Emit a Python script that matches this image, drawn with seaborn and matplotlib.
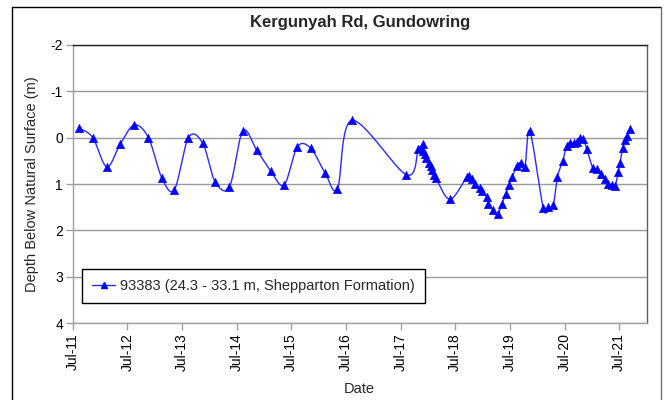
import numpy as np
import pandas as pd
import matplotlib
matplotlib.use('Agg')
import matplotlib.pyplot as plt
import matplotlib.dates as mdates
from matplotlib.lines import Line2D
import seaborn as sns

# Bore 93383 readings (depth below natural surface, m)
dates = [
    '2011-08-15', '2011-11-12', '2012-02-14', '2012-05-14', '2012-08-15', '2012-11-18',
    '2013-02-16', '2013-05-11', '2013-08-13', '2013-11-16', '2014-02-07', '2014-05-14',
    '2014-08-11', '2014-11-12', '2015-02-14', '2015-05-14', '2015-08-11', '2015-11-08',
    '2016-02-12', '2016-05-05', '2016-08-09', '2017-08-08',
    '2017-10-27', '2017-11-12', '2017-11-25', '2017-11-29', '2017-12-11', '2017-12-17',
    '2018-01-09', '2018-01-20', '2018-01-29', '2018-02-12', '2018-02-23', '2018-05-27',
    '2018-09-16', '2018-10-01', '2018-10-19', '2018-11-10', '2018-12-13', '2018-12-29',
    '2019-01-27', '2019-02-07', '2019-03-13', '2019-04-11', '2019-05-08', '2019-06-04',
    '2019-06-25', '2019-07-17', '2019-08-15', '2019-09-11', '2019-10-10', '2019-11-12',
    '2020-02-09', '2020-03-14', '2020-04-16', '2020-05-14', '2020-06-19', '2020-07-15',
    '2020-08-07', '2020-09-03', '2020-09-21', '2020-10-13', '2020-11-04', '2020-11-27',
    '2021-01-05', '2021-02-01', '2021-02-28', '2021-03-28', '2021-04-19', '2021-05-12',
    '2021-06-03', '2021-06-25', '2021-07-06', '2021-07-24', '2021-08-09', '2021-08-24',
    '2021-09-11',
]
depth = [
    -0.20, 0.00, 0.63, 0.14, -0.27, 0.00,
    0.87, 1.12, 0.00, 0.12, 0.95, 1.06,
    -0.14, 0.27, 0.72, 1.02, 0.20, 0.23,
    0.76, 1.10, -0.37, 0.80,
    0.25, 0.22, 0.30, 0.14, 0.36, 0.43,
    0.54, 0.62, 0.70, 0.81, 0.88, 1.33,
    0.85, 0.83, 0.90, 1.01, 1.09, 1.15,
    1.29, 1.42, 1.57, 1.65, 1.44, 1.21,
    1.02, 0.86, 0.61, 0.54, 0.64, -0.14,
    1.51, 1.49, 1.46, 0.85, 0.50, 0.18,
    0.11, 0.11, 0.09, 0.02, 0.04, 0.25,
    0.65, 0.68, 0.79, 0.90, 0.99, 1.03,
    1.05, 0.75, 0.54, 0.23, 0.06, -0.03,
    -0.18,
]

title = "Kergunyah Rd, Gundowring"
series_label = "93383 (24.3 - 33.1 m, Shepparton Formation)"
x_label = "Date"
y_label = "Depth Below Natural Surface (m)"
y_ticks = [-2, -1, 0, 1, 2, 3, 4]

blue = '#0000ff'

sns.set_theme(style='white')
plt.rcParams['font.family'] = ['Liberation Sans', 'DejaVu Sans']

df = pd.DataFrame({'date': pd.to_datetime(dates), 'depth': depth})


# Excel style smoothed line: bezier segments through the points,
# worked out in (roughly) screen units so the shape matches
def smooth_line(t, y, sx, sy, n=24):
    px = np.asarray(t) * sx
    py = np.asarray(y) * sy
    P = np.column_stack([px, py])
    P = np.vstack([P[0], P, P[-1]])
    out = []
    for i in range(1, len(P) - 2):
        p0, p1, p2, p3 = P[i - 1], P[i], P[i + 1], P[i + 2]
        c1 = p1 + (p2 - p0) / 6
        c2 = p2 - (p3 - p1) / 6
        u = np.linspace(0, 1, n)[:, None]
        seg = ((1 - u) ** 3) * p1 + 3 * ((1 - u) ** 2) * u * c1 + 3 * (1 - u) * u ** 2 * c2 + u ** 3 * p2
        out.append(seg if i == 1 else seg[1:])
    out = np.vstack(out)
    return out[:, 0] / sx, out[:, 1] / sy


days = (df['date'] - pd.Timestamp('1970-01-01')) / pd.Timedelta('1D')
cx, cy = smooth_line(days, df['depth'], 54.66 / 365.25, 46.4)
curve = pd.DataFrame({'date': pd.to_datetime(cx, unit='D'), 'depth': cy})

fig = plt.figure(figsize=(6.66, 4.0), dpi=100)
ax = fig.add_axes([72.7 / 666, 1 - 323.3 / 400, 574 / 666, 278.6 / 400])

sns.lineplot(data=curve, x='date', y='depth', ax=ax, color='#2a2aff', lw=1.0,
             sort=False, estimator=None, legend=False)
sns.scatterplot(data=df, x='date', y='depth', ax=ax, marker='^', color=blue,
                s=38, edgecolor=blue, linewidth=0.3, legend=False, zorder=3)

ax.set_xlim(pd.Timestamp('2011-07-01'), pd.Timestamp('2022-01-01'))
ax.set_ylim(4, -2)
ax.set_yticks(y_ticks)
ax.set_yticklabels([str(v) for v in y_ticks], fontsize=10)
ax.xaxis.set_major_locator(mdates.MonthLocator(bymonth=7))
ax.xaxis.set_major_formatter(mdates.DateFormatter('%b-%y'))
plt.setp(ax.get_xticklabels(), rotation=90, fontsize=10)

ax.grid(axis='y', color='#9a9a9a', lw=1)
ax.grid(axis='x', visible=False)
ax.tick_params(axis='both', direction='out', length=5, width=1, color='#a0a0a0',
               left=True, bottom=True, pad=2, labelcolor='black')
for side in ['left', 'bottom']:
    ax.spines[side].set_color('#a0a0a0')
ax.spines['top'].set_color('#202020')
ax.spines['right'].set_color('#606060')
for s in ax.spines.values():
    s.set_linewidth(1)

ax.set_xlabel(x_label, fontsize=10.5)
ax.set_ylabel(y_label, fontsize=10.5)
ax.xaxis.set_label_coords(0.5, -0.212)
ax.yaxis.set_label_coords(-0.059, 0.5)

handle = Line2D([], [], color='#2a2aff', lw=1, marker='^', markersize=5,
                markerfacecolor=blue, markeredgecolor=blue)
leg = ax.legend([handle], [series_label], loc='lower left', bbox_to_anchor=(0.016, 0.073),
                fontsize=10.5, frameon=True, fancybox=False, framealpha=1,
                borderpad=0.7, handlelength=1.6, handletextpad=0.3, borderaxespad=0)
leg.get_frame().set_edgecolor('black')
leg.get_frame().set_linewidth(1)

fig.text(359.7 / 666, 1 - 22 / 400, title, ha='center', va='center',
         fontsize=12, fontweight='bold')

# outer chart frame
fig.add_artist(Line2D([12 / 666, 12 / 666], [0, 1 - 7 / 400], color='black', lw=1))
fig.add_artist(Line2D([12 / 666, 661 / 666], [1 - 7 / 400, 1 - 7 / 400], color='black', lw=1))
fig.add_artist(Line2D([661 / 666, 661 / 666], [0, 1 - 7 / 400], color='#707070', lw=1))

fig.savefig('out.png', dpi=100)
